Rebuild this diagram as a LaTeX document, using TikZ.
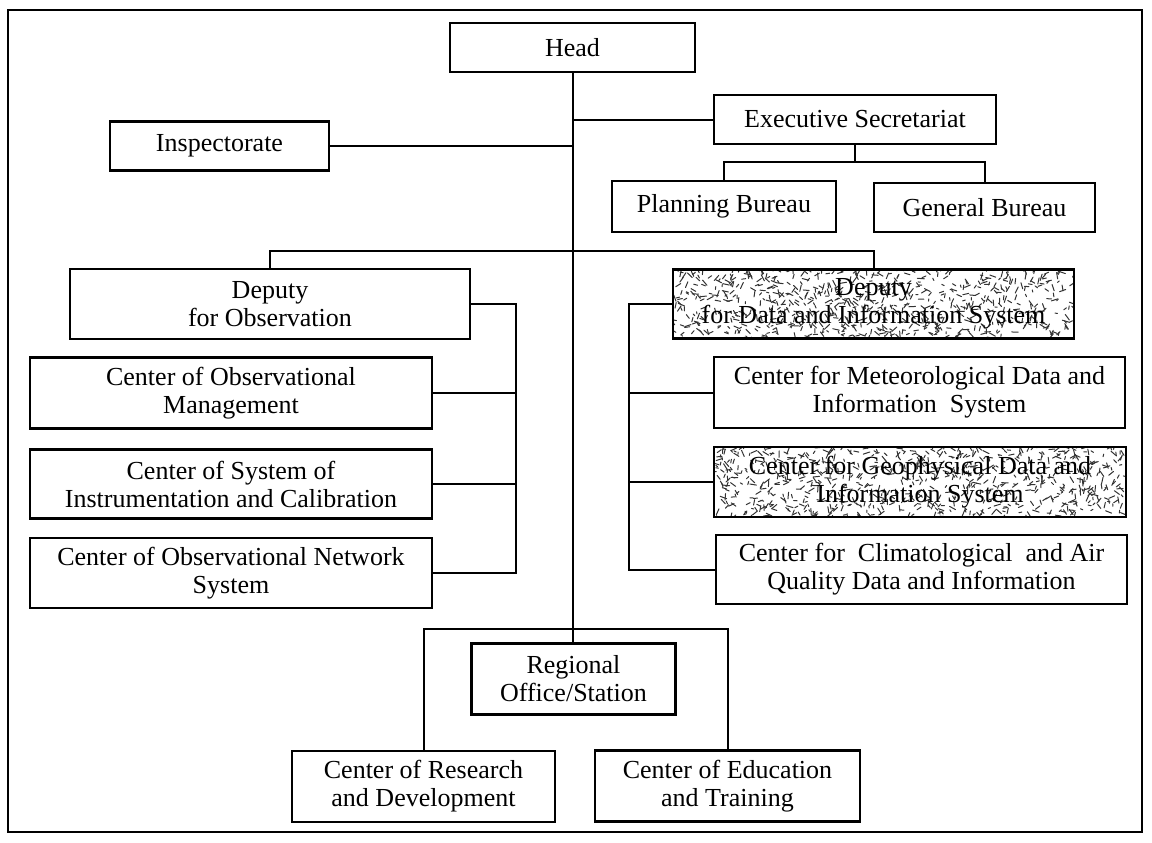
\documentclass[tikz,border=0pt]{standalone}
\usepackage{fontspec}
\setmainfont{Liberation Serif}
\usetikzlibrary{calc}
\tikzset{
  box/.style={draw=black, line width=2.5pt, fill=white, align=center, inner sep=2pt,
    font=\fontsize{26}{28}\selectfont},
  conn/.style={draw=black, line width=2pt},
  speckle/.style={path picture={
    \pgfmathsetseed{#1}
    \foreach \i in {1,...,800}{
      \pgfmathsetmacro{\u}{rnd}\pgfmathsetmacro{\v}{rnd*72}\pgfmathsetmacro{\a}{rnd*360}\pgfmathsetmacro{\l}{2+rnd*5}
      \draw[line width=1pt, black!80, line cap=round]
        ($(path picture bounding box.south west)!\u!(path picture bounding box.south east)+(0pt,\v pt)$) -- ++(\a:\l pt);
    }
  }}
}
\begin{document}
\begin{tikzpicture}[x=1pt,y=-1pt]
\useasboundingbox (0,0) rectangle (1152,843);
\draw[line width=2.4pt] (8,10) rectangle (1142,832);

% boxes
\node[box, minimum width=245pt, minimum height=49pt] (head) at (572.5,47.5) {Head};
\node[box, minimum width=282pt, minimum height=49pt] (exec) at (855,119.5) {Executive Secretariat};
\node[box, minimum width=219pt, minimum height=49pt] (insp) at (219.5,146) {Inspectorate};
\node[box, minimum width=224pt, minimum height=51pt] (plan) at (724,206.5) {Planning Bureau};
\node[box, minimum width=221pt, minimum height=49pt] (gen) at (984.5,207.5) {General Bureau};
\node[box, minimum width=400pt, minimum height=70pt] (depobs) at (270,304) {Deputy\\for Observation};
\node[box, speckle=7, minimum width=401pt, minimum height=69pt] (depdata) at (873.5,304) {Deputy\\for Data and Information System};
\node[box, minimum width=402pt, minimum height=71pt] (mgmt) at (231,393) {Center of Observational\\Management};
\node[box, minimum width=402pt, minimum height=69pt] (instr) at (231,484) {Center of System of\\Instrumentation and Calibration};
\node[box, minimum width=402pt, minimum height=70pt] (netw) at (231,573) {Center of Observational Network\\System};
\node[box, minimum width=411pt, minimum height=71pt] (meteo) at (919.5,392.5) {Center for Meteorological Data and\\Information\enspace System};
\node[box, speckle=13, minimum width=412pt, minimum height=70pt] (geo) at (920,482) {Center for Geophysical Data and\\Information System};
\node[box, minimum width=411pt, minimum height=69pt] (clim) at (921.5,569.5) {Center for\enspace Climatological\enspace and Air\\Quality Data and Information};
\node[box, minimum width=204pt, minimum height=71pt] (reg) at (573.5,679) {Regional\\Office/Station};
\node[box, minimum width=263pt, minimum height=71pt] (res) at (423.5,786.5) {Center of Research\\and Development};
\node[box, minimum width=265pt, minimum height=71pt] (edu) at (727.5,786) {Center of Education\\and Training};

% coordinates
\coordinate (lb) at (516,0);
\coordinate (rb) at (629,0);
\coordinate (top) at (0,162);
\coordinate (dep) at (0,251);
\coordinate (bot) at (0,629);

% connectors
\draw[conn] (head.south) -- (head.south |- reg.north);
\draw[conn] (insp.east) -- (insp.east -| head.south);
\draw[conn] (exec.west) -- (exec.west -| head.south);
\draw[conn] (exec.south) -- (exec.south |- top);
\draw[conn] (plan.north) -- (plan.north |- top) -- (gen.north |- top) -- (gen.north);
\draw[conn] (depobs.north) -- (depobs.north |- dep) -- (depdata.north |- dep) -- (depdata.north);
\draw[conn] (depobs.east) -- (depobs.east -| lb) -- (netw.east -| lb) -- (netw.east);
\draw[conn] (mgmt.east) -- (mgmt.east -| lb);
\draw[conn] (instr.east) -- (instr.east -| lb);
\draw[conn] (depdata.west) -- (depdata.west -| rb) -- (clim.west -| rb) -- (clim.west);
\draw[conn] (meteo.west) -- (meteo.west -| rb);
\draw[conn] (geo.west) -- (geo.west -| rb);
\draw[conn] (res.north) -- (res.north |- bot) -- (edu.north |- bot) -- (edu.north);
\end{tikzpicture}
\end{document}
